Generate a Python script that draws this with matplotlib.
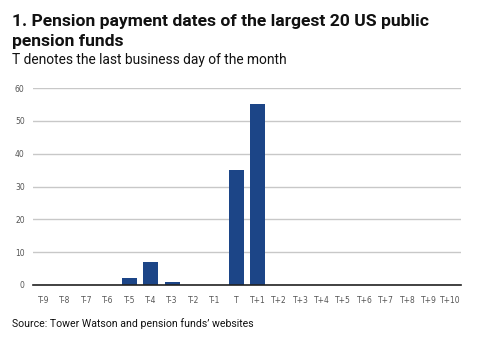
import matplotlib
matplotlib.use("Agg")
import matplotlib.pyplot as plt

days = ["T-9", "T-8", "T-7", "T-6", "T-5", "T-4", "T-3", "T-2", "T-1", "T",
        "T+1", "T+2", "T+3", "T+4", "T+5", "T+6", "T+7", "T+8", "T+9", "T+10"]
share = [0, 0, 0, 0, 2, 7, 1, 0, 0, 35, 55, 0, 0, 0, 0, 0, 0, 0, 0, 0]
yticks = [0, 10, 20, 30, 40, 50, 60]

plt.rcParams['font.family'] = ['Roboto', 'DejaVu Sans']
fig = plt.figure(figsize=(4.8, 3.42), dpi=100)
ax = fig.add_axes([33/480, 1 - 285/342, 428/480, 197/342])

ax.bar(range(len(days)), share, width=0.7, color="#1c4587", zorder=3)
ax.set_xlim(-0.5, len(days) - 0.5)
ax.set_ylim(0, 60)
ax.set_yticks(yticks)
ax.set_xticks(range(len(days)))
narrow = ['Liberation Sans Narrow', 'DejaVu Sans']
ax.set_xticklabels(days, fontsize=5.5, color="#555555", family=narrow)
ax.set_yticklabels([str(v) for v in yticks], fontsize=5.5, color="#555555", family=narrow)
ax.tick_params(axis='x', length=0, pad=8)
ax.tick_params(axis='y', length=0, pad=6)
ax.grid(axis='y', color="#c8c8c8", linewidth=1, zorder=0)
for s in ["top", "right", "left"]:
    ax.spines[s].set_visible(False)
ax.spines["bottom"].set_color("#222222")
ax.spines["bottom"].set_linewidth(1.2)
ax.spines["bottom"].set_zorder(4)

# title lines placed by baseline
fig.text(12/480, 1 - 26/342, "1. Pension payment dates of the largest 20 US public",
         fontsize=12.6, fontweight="bold", va="baseline", ha="left", color="#111111")
fig.text(12/480, 1 - 46/342, "pension funds",
         fontsize=12.6, fontweight="bold", va="baseline", ha="left", color="#111111")
fig.text(12/480, 1 - 64/342, "T denotes the last business day of the month",
         fontsize=9.9, va="baseline", ha="left", color="#111111")
fig.text(12/480, 1 - 327/342, "Source: Tower Watson and pension funds\u2019 websites",
         fontsize=7.6, va="baseline", ha="left", color="#111111")

fig.savefig("out.png", dpi=100)
